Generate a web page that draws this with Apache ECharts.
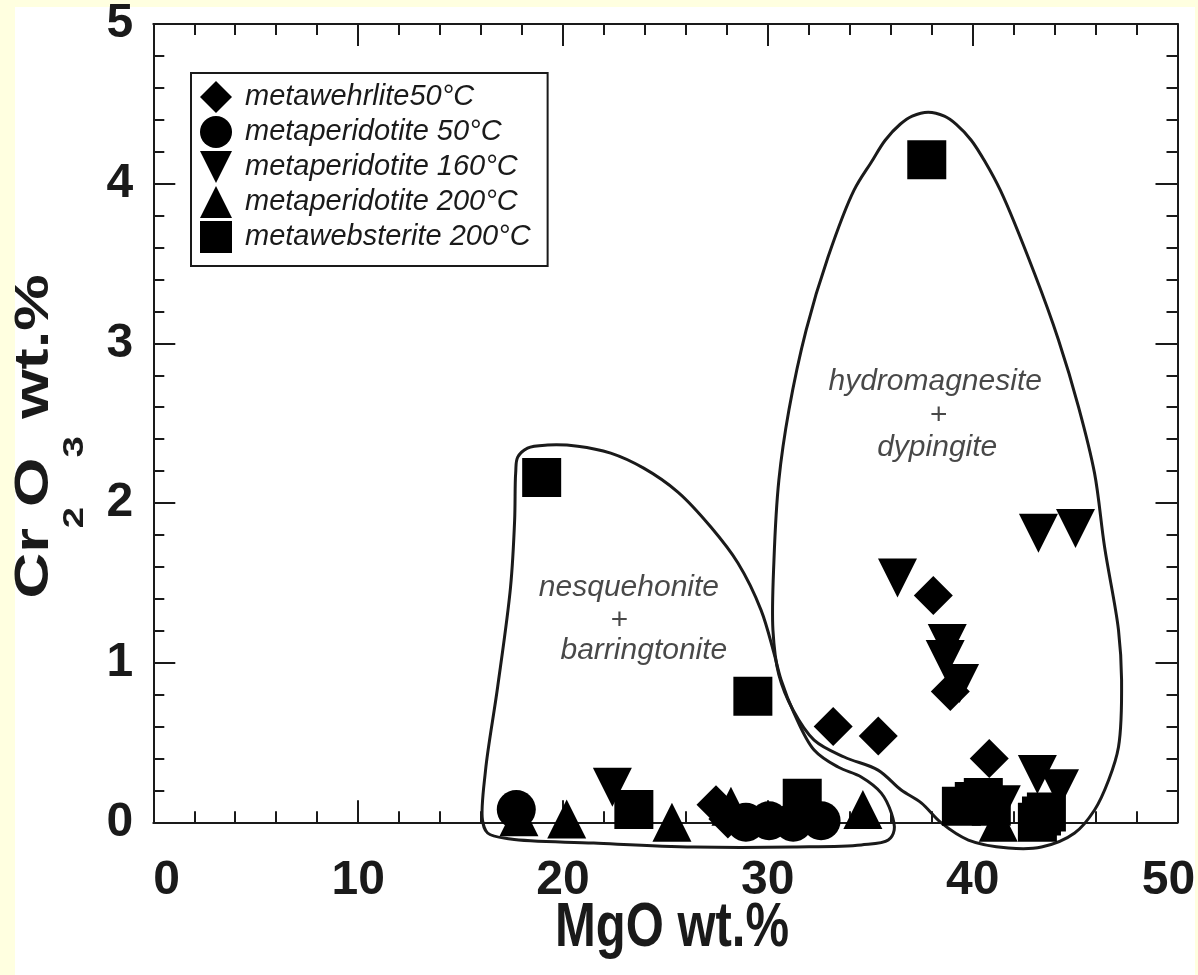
<!DOCTYPE html>
<html><head><meta charset="utf-8">
<script src="https://cdn.jsdelivr.net/npm/echarts@6/dist/echarts.min.js"></script>
<style>html,body{margin:0;padding:0;background:#FFFFE0;}#chart{width:1198px;height:975px;}</style>
</head><body><div id="chart"></div>
<script>
// ---------- data (MgO wt.%, Cr2O3 wt.%) ----------
const seriesNames = ['metawehrlite50°C', 'metaperidotite 50°C', 'metaperidotite 160°C', 'metaperidotite 200°C', 'metawebsterite 200°C'];
const wehrlite50 = [[38.08,1.42],[38.91,0.82],[33.19,0.60],[35.39,0.54],[40.81,0.40],[27.47,0.11],[28.05,0.02]];
const peridotite50 = [[17.72,0.08],[28.93,0.00],[30.06,0.01],[31.24,0.00],[32.60,0.01]];
const peridotite160 = [[22.41,0.22],[36.33,1.53],[38.76,1.12],[38.66,1.02],[39.36,0.87],[43.21,1.81],[45.02,1.84],[43.16,0.30],[44.24,0.21],[41.40,0.11]];
const peridotite200 = [[17.85,0.035],[20.18,0.02],[25.32,0.00],[28.20,0.10],[34.64,0.08],[41.25,0.00]];
const websterite200 = [[37.76,4.15],[18.96,2.16],[29.27,0.79],[23.46,0.08],[31.68,0.15],[39.45,0.10],[40.08,0.13],[40.52,0.155],[40.91,0.10],[43.16,0.00],[43.36,0.04],[43.60,0.065]];

// field outlines (closed curves, data coordinates)
const nesquehoniteField = [[17.69,2.187],[17.79,2.287],[18.27,2.344],[19.25,2.363],[20.72,2.356],[22.33,2.312],[23.94,2.218],[25.61,2.068],[27.22,1.849],[28.54,1.624],[29.67,1.329],[30.30,1.060],[30.65,0.891],[31.28,0.684],[32.26,0.453],[33.43,0.346],[34.56,0.284],[35.54,0.183],[36.03,0.058],[36.17,-0.048],[35.88,-0.111],[34.56,-0.142],[31.28,-0.155],[26.39,-0.155],[21.50,-0.130],[17.44,-0.105],[16.32,-0.067],[16.07,0.014],[16.22,0.327],[16.81,0.847],[17.44,1.473],[17.64,1.893]];
const hydromagnesiteField = [[45.17,2.601],[45.95,2.187],[46.44,1.724],[47.12,1.204],[47.27,0.891],[47.12,0.472],[46.64,0.265],[45.95,0.077],[44.98,-0.067],[43.36,-0.155],[41.74,-0.161],[39.79,-0.111],[38.47,-0.004],[37.49,0.122],[36.51,0.202],[35.38,0.327],[33.73,0.409],[32.26,0.515],[31.23,0.703],[30.54,0.923],[30.25,1.204],[30.30,1.643],[30.54,2.144],[31.03,2.582],[31.87,3.083],[32.94,3.540],[34.21,3.959],[35.05,4.134],[35.73,4.272],[36.46,4.372],[37.05,4.423],[37.83,4.448],[38.62,4.423],[39.20,4.372],[39.93,4.272],[40.62,4.134],[41.35,3.959],[43.01,3.440],[44.19,3.021]];

// field labels
const fieldLabelTexts = ['nesquehonite', '+', 'barringtonite', 'hydromagnesite', '+', 'dypingite'];
const fieldLabelAnchors = [[23.22,1.467],[22.73,1.266],[23.95,1.078],[38.17,2.762],[38.32,2.549],[38.27,2.349]];

// axes
const xTicks = [0, 10, 20, 30, 40, 50];
const yTicks = [0, 1, 2, 3, 4, 5];
const xTitle = 'MgO wt.%';

// ---------- styles ----------
const SANS = '"Liberation Sans", Arial, sans-serif';
const INK = '#1a1a1a';
const invTri = 'path://M0,0 L10,0 L5,10 Z';

const chart = echarts.init(document.getElementById('chart'), null, {renderer: 'canvas'});

function axisCommon() {
  return {
    axisLine: {show: true, onZero: false, lineStyle: {color: INK, width: 2}},
    axisTick: {show: true, inside: true, length: 22, lineStyle: {color: INK, width: 2}},
    minorTick: {show: true, splitNumber: 5, length: 11, lineStyle: {color: INK, width: 2}},
    splitLine: {show: false},
    axisLabel: {show: false}
  };
}

const xBase = {type: 'value', min: xTicks[0], max: xTicks[xTicks.length - 1], interval: xTicks[1] - xTicks[0]};
const yBase = {type: 'value', min: yTicks[0], max: yTicks[yTicks.length - 1], interval: yTicks[1] - yTicks[0]};

function scatter(name, data, symbol) {
  return {
    name, type: 'scatter', data, symbol, symbolSize: 39, z: 5,
    itemStyle: {color: '#000', opacity: 1}, emphasis: {disabled: true}
  };
}

// closed smooth outline (centripetal Catmull-Rom through the field points, mapped by the axes)
function outline(points) {
  return {
    type: 'custom', silent: true, z: 3, clip: false,
    data: [0],
    renderItem: function (params, api) {
      const p = points.map(d => api.coord(d));
      const n = p.length;
      const dist = (a, b) => Math.hypot(b[0] - a[0], b[1] - a[1]);
      let d = 'M' + p[0][0] + ' ' + p[0][1];
      for (let i = 0; i < n; i++) {
        const p0 = p[(i - 1 + n) % n], p1 = p[i], p2 = p[(i + 1) % n], p3 = p[(i + 2) % n];
        const l01 = Math.sqrt(dist(p0, p1)), l12 = Math.sqrt(dist(p1, p2)), l23 = Math.sqrt(dist(p2, p3));
        const l01s = l01 * l01, l12s = l12 * l12, l23s = l23 * l23;
        const a = 2 * l01s + 3 * l01 * l12 + l12s, na = 3 * l01 * (l01 + l12);
        const b = 2 * l23s + 3 * l23 * l12 + l12s, nb = 3 * l23 * (l23 + l12);
        const c1x = (p1[0] * a - p0[0] * l12s + p2[0] * l01s) / na;
        const c1y = (p1[1] * a - p0[1] * l12s + p2[1] * l01s) / na;
        const c2x = (p2[0] * b + p1[0] * l23s - p3[0] * l12s) / nb;
        const c2y = (p2[1] * b + p1[1] * l23s - p3[1] * l12s) / nb;
        d += ' C' + c1x + ' ' + c1y + ' ' + c2x + ' ' + c2y + ' ' + p2[0] + ' ' + p2[1];
      }
      d += ' Z';
      return {type: 'path', shape: {pathData: d}, style: {fill: null, stroke: INK, lineWidth: 3}};
    }
  };
}

const yTitleRich = '{a|Cr}{s|2}{a|O}{s|3}{a| wt.%}';

const option = {
  backgroundColor: '#FFFFE0',
  animation: false,
  graphic: [
    {type: 'rect', left: 15, top: 7, z: -10, shape: {width: 1180, height: 968}, style: {fill: '#ffffff'}},
    {type: 'text', x: 672, y: 929, scaleY: 1.28, z: 10,
     style: {text: xTitle, font: 'bold 49px ' + SANS, fill: INK, textAlign: 'center', textVerticalAlign: 'middle'}},
    {type: 'text', x: 10.6, y: 436.5, rotation: Math.PI / 2, scaleX: 1.32, z: 10,
     style: {
       text: yTitleRich, fill: INK, textAlign: 'center', textVerticalAlign: 'top',
       rich: {
         a: {fontFamily: SANS, fontWeight: 'bold', fontSize: 48, fill: INK, padding: [0, 0, 31, 0], verticalAlign: 'top'},
         s: {fontFamily: SANS, fontWeight: 'bold', fontSize: 29, fill: INK, verticalAlign: 'bottom'}
       }
     }}
  ],
  grid: {left: 153.3, right: 20.5, top: 24, bottom: 152.7, outerBoundsMode: 'none', containLabel: false},
  legend: {
    orient: 'vertical', left: 191, top: 73,
    data: seriesNames,
    itemWidth: 32, itemHeight: 32, itemGap: 3,
    padding: [8, 17, 13, 9],
    borderColor: INK, borderWidth: 2, backgroundColor: '#fff',
    selectedMode: false,
    textStyle: {fontFamily: SANS, fontStyle: 'italic', fontSize: 29, color: INK, padding: [0, 0, 0, 8]}
  },
  xAxis: [
    Object.assign({}, xBase, axisCommon(), {
      position: 'bottom',
      axisLabel: {
        show: true, margin: 34, fontFamily: SANS, fontWeight: 'bold', fontSize: 48, color: INK, alignMinLabel: 'left',
        formatter: v => (v === xTicks[xTicks.length - 1] ? '{m|' + v + '}' : String(v)),
        rich: {m: {fontFamily: SANS, fontWeight: 'bold', fontSize: 48, color: INK, padding: [0, 18, 0, 0]}}
      }
    }),
    Object.assign({}, xBase, axisCommon(), {position: 'top'})
  ],
  yAxis: [
    Object.assign({}, yBase, axisCommon(), {
      position: 'left',
      axisLabel: {show: true, margin: 20, fontFamily: SANS, fontWeight: 'bold', fontSize: 48, color: INK}
    }),
    Object.assign({}, yBase, axisCommon(), {position: 'right'})
  ],
  series: [
    scatter(seriesNames[0], wehrlite50, 'diamond'),
    scatter(seriesNames[1], peridotite50, 'circle'),
    scatter(seriesNames[2], peridotite160, invTri),
    scatter(seriesNames[3], peridotite200, 'triangle'),
    scatter(seriesNames[4], websterite200, 'rect'),
    outline(nesquehoniteField),
    outline(hydromagnesiteField),
    {
      type: 'scatter', silent: true, symbolSize: 0, z: 4,
      data: fieldLabelAnchors.map((p, i) => ({value: p, label: {formatter: fieldLabelTexts[i]}})),
      label: {show: true, position: 'inside', fontFamily: SANS, fontStyle: 'italic', fontSize: 30, color: INK},
      emphasis: {disabled: true}
    }
  ]
};
chart.setOption(option);
</script>
</body></html>
